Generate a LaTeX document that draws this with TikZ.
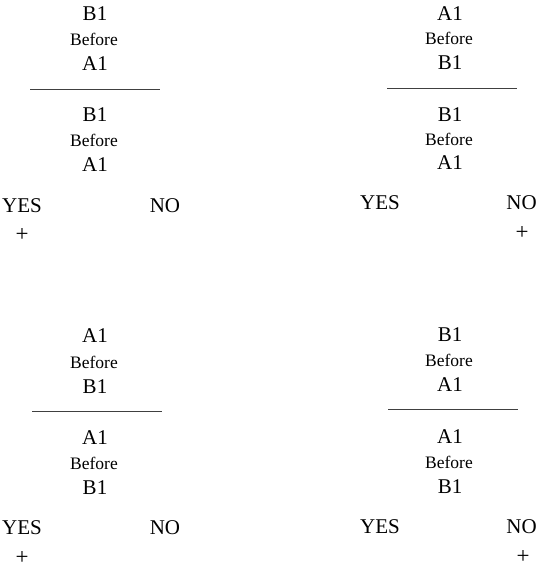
\documentclass[tikz,border=0pt]{standalone}
\usepackage{fontspec}
\setmainfont{Liberation Serif}
\begin{document}
\begin{tikzpicture}[x=1pt,y=-1pt,
  big/.style={inner sep=0pt,font=\fontsize{21}{21}\selectfont},
  small/.style={inner sep=0pt,font=\fontsize{17.5}{17.5}\selectfont},
  plus/.style={inner sep=0pt,font=\fontsize{23}{23}\selectfont},
  rule/.style={line width=0.9pt,black!75}]
\useasboundingbox (0,0) rectangle (537,568);
% top-left
\node[big]   (tl1) at (95,14)  {B1};
\node[small] (tl2) at (94,39)  {Before};
\node[big]   (tl3) at (95,64)  {A1};
\coordinate (tlL) at (30,89); \coordinate (tlR) at (160,89);
\draw[rule] (tlL) -- (tlR);
\node[big]   (tl4) at (95,115) {B1};
\node[small] (tl5) at (94,140) {Before};
\node[big]   (tl6) at (95,165) {A1};
\node[big]   (tly) at (22,206) {YES};
\node[big]   (tln) at (165,206) {NO};
\node[plus]  (tlp) at (22,235) {+};
% top-right
\node[big]   (tr1) at (450,14)  {A1};
\node[small] (tr2) at (449,38)  {Before};
\node[big]   (tr3) at (450,63)  {B1};
\coordinate (trL) at (387,88); \coordinate (trR) at (517,88);
\draw[rule] (trL) -- (trR);
\node[big]   (tr4) at (450,115) {B1};
\node[small] (tr5) at (449,139) {Before};
\node[big]   (tr6) at (450,163) {A1};
\node[big]   (try) at (380,203) {YES};
\node[big,anchor=east] (trn) at (537,203) {NO};
\node[plus]  (trp) at (522,233) {+};
% bottom-left
\node[big]   (bl1) at (95,336) {A1};
\node[small] (bl2) at (94,362) {Before};
\node[big]   (bl3) at (95,387) {B1};
\coordinate (blL) at (32,411); \coordinate (blR) at (162,411);
\draw[rule] (blL) -- (blR);
\node[big]   (bl4) at (95,438) {A1};
\node[small] (bl5) at (94,463) {Before};
\node[big]   (bl6) at (95,488) {B1};
\node[big]   (bly) at (22,528) {YES};
\node[big]   (bln) at (165,528) {NO};
\node[plus]  (blp) at (22,558) {+};
% bottom-right
\node[big]   (br1) at (450,335) {B1};
\node[small] (br2) at (449,360) {Before};
\node[big]   (br3) at (450,385) {A1};
\coordinate (brL) at (388,409); \coordinate (brR) at (518,409);
\draw[rule] (brL) -- (brR);
\node[big]   (br4) at (450,437) {A1};
\node[small] (br5) at (449,462) {Before};
\node[big]   (br6) at (450,487) {B1};
\node[big]   (bry) at (380,527) {YES};
\node[big,anchor=east] (brn) at (537,527) {NO};
\node[plus]  (brp) at (523,557) {+};
\end{tikzpicture}
\end{document}
